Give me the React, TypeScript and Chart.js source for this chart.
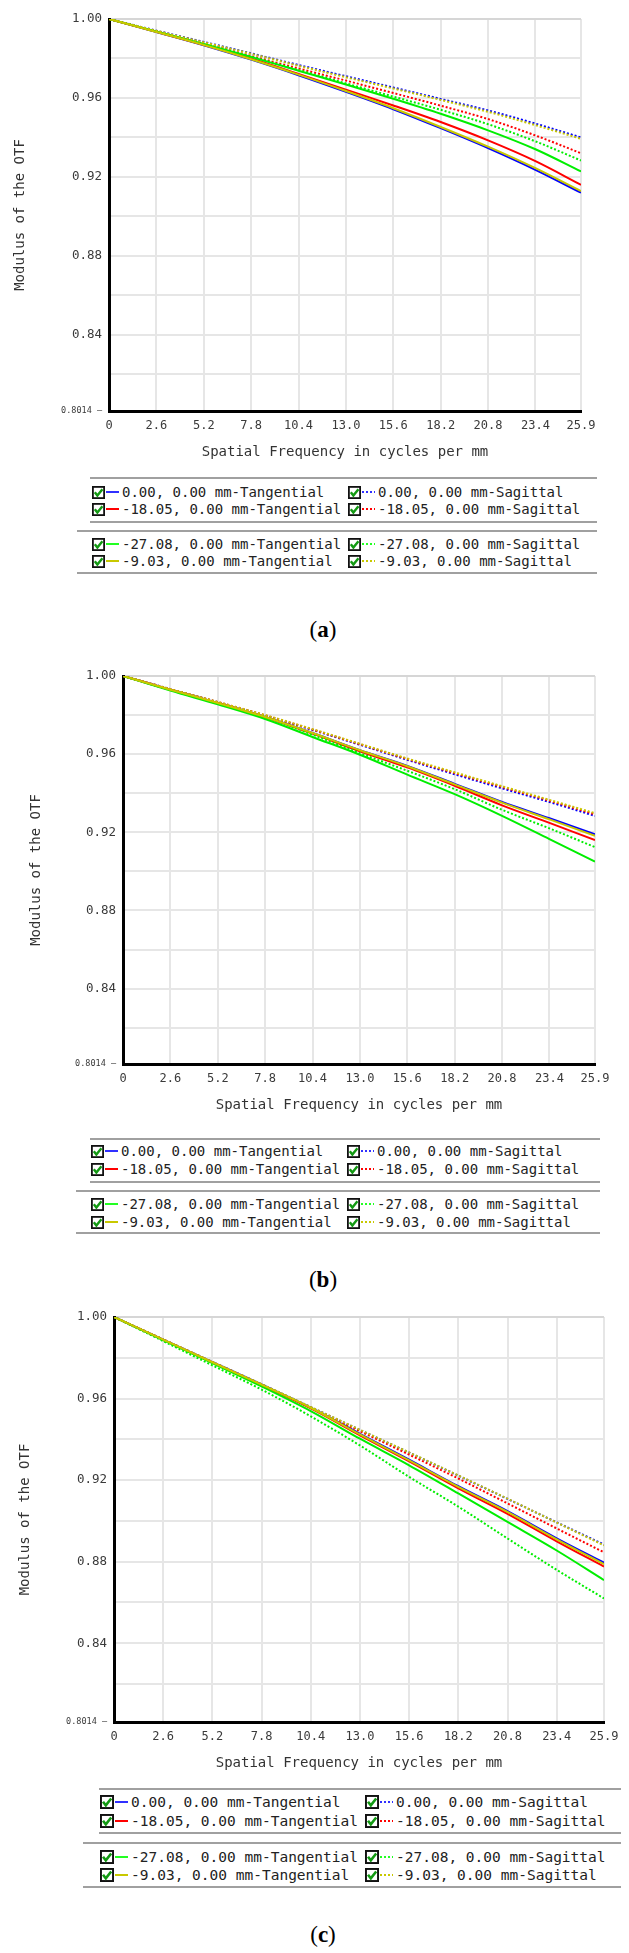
import { useEffect, useRef } from "react";
import { Chart, registerables } from "chart.js";

Chart.register(...registerables);

const MONO = "'DejaVu Sans Mono', monospace";

// spatial frequency ticks (cycles per mm)
const frequencies = [0, 2.6, 5.2, 7.8, 10.4, 13.0, 15.6, 18.2, 20.8, 23.4, 25.9];
const yTicks = [0.8014, 0.82, 0.84, 0.86, 0.88, 0.9, 0.92, 0.94, 0.96, 0.98, 1.0];
const yLabelled = [0.84, 0.88, 0.92, 0.96, 1.0];

const seriesLabels = [
  "0.00, 0.00 mm-Tangential",
  "0.00, 0.00 mm-Sagittal",
  "-18.05, 0.00 mm-Tangential",
  "-18.05, 0.00 mm-Sagittal",
  "-27.08, 0.00 mm-Tangential",
  "-27.08, 0.00 mm-Sagittal",
  "-9.03, 0.00 mm-Tangential",
  "-9.03, 0.00 mm-Sagittal",
];
const seriesColors = ["#0000ff", "#0000ff", "#ff0000", "#ff0000", "#00ee00", "#00ee00", "#c8c800", "#c8c800"];
const seriesDotted = [false, true, false, true, false, true, false, true];

// panel (a)
const aT0 = [1.0, 0.9934, 0.9867, 0.9794, 0.9715, 0.9631, 0.9543, 0.9447, 0.9346, 0.9236, 0.912];
const aS0 = [1.0, 0.9941, 0.9884, 0.9826, 0.9767, 0.971, 0.9653, 0.9595, 0.9537, 0.947, 0.94];
const aT18 = [1.0, 0.9935, 0.9869, 0.98, 0.9722, 0.9642, 0.9562, 0.9478, 0.9385, 0.928, 0.916];
const aS18 = [1.0, 0.9938, 0.9876, 0.9813, 0.9749, 0.9688, 0.9625, 0.9561, 0.9493, 0.941, 0.932];
const aT27 = [1.0, 0.9937, 0.9873, 0.9808, 0.9738, 0.9668, 0.9596, 0.952, 0.9436, 0.934, 0.9228];
const aS27 = [1.0, 0.9937, 0.9874, 0.9809, 0.9741, 0.9674, 0.9607, 0.954, 0.9467, 0.938, 0.9283];
const aT9 = [1.0, 0.9934, 0.9868, 0.9796, 0.9718, 0.9635, 0.9548, 0.9453, 0.9353, 0.9244, 0.9128];
const aS9 = [1.0, 0.994, 0.9882, 0.9824, 0.9763, 0.9705, 0.9648, 0.959, 0.953, 0.9462, 0.9393];

// panel (b)
const bT0 = [1.0, 0.993, 0.9862, 0.979, 0.9708, 0.962, 0.954, 0.9448, 0.9355, 0.9272, 0.919];
const bS0 = [1.0, 0.9933, 0.9866, 0.9797, 0.9724, 0.9648, 0.9571, 0.9497, 0.9425, 0.9355, 0.9284];
const bT18 = [1.0, 0.993, 0.9862, 0.9789, 0.9705, 0.9615, 0.9532, 0.9438, 0.9338, 0.9248, 0.916];
const bS18 = [1.0, 0.9933, 0.9867, 0.9799, 0.9726, 0.9651, 0.9575, 0.9503, 0.9432, 0.9362, 0.9292];
const bT27 = [1.0, 0.9925, 0.9855, 0.978, 0.9688, 0.9597, 0.9495, 0.9395, 0.9284, 0.9165, 0.905];
const bS27 = [1.0, 0.9928, 0.986, 0.979, 0.97, 0.9605, 0.9515, 0.9421, 0.9315, 0.922, 0.9124];
const bT9 = [1.0, 0.993, 0.9862, 0.979, 0.9708, 0.962, 0.9538, 0.9445, 0.9352, 0.9266, 0.9182];
const bS9 = [1.0, 0.9933, 0.9867, 0.98, 0.9728, 0.9653, 0.9578, 0.9507, 0.9436, 0.9366, 0.9298];

// panel (c)
const cT0 = [1.0, 0.9889, 0.9779, 0.9669, 0.9556, 0.9427, 0.93, 0.917, 0.9048, 0.8915, 0.8795];
const cS0 = [1.0, 0.989, 0.978, 0.967, 0.9558, 0.9446, 0.9335, 0.9222, 0.9108, 0.8993, 0.8884];
const cT18 = [1.0, 0.9888, 0.9777, 0.9666, 0.9552, 0.942, 0.9292, 0.916, 0.9035, 0.89, 0.8776];
const cS18 = [1.0, 0.989, 0.9779, 0.9668, 0.9555, 0.944, 0.9325, 0.9208, 0.9086, 0.8963, 0.8846];
const cT27 = [1.0, 0.9887, 0.9774, 0.966, 0.9539, 0.9403, 0.9273, 0.9135, 0.8995, 0.8855, 0.871];
const cS27 = [1.0, 0.9882, 0.9763, 0.9644, 0.9513, 0.937, 0.9216, 0.907, 0.8914, 0.876, 0.862];
const cT9 = [1.0, 0.9889, 0.9778, 0.9668, 0.9555, 0.9424, 0.9297, 0.9167, 0.9044, 0.891, 0.8788];
const cS9 = [1.0, 0.989, 0.978, 0.9671, 0.9559, 0.9447, 0.9336, 0.9223, 0.9109, 0.8992, 0.888];

type Plot = { left: number; right: number; top: number; bottom: number };

const PAD_TOP = 15;
const X_AXIS_H = 50;

function OtfChart({ series, plot, yTitleX }: { series: number[][]; plot: Plot; yTitleX: number }) {
  const chartRef = useRef<HTMLCanvasElement | null>(null);
  const height = PAD_TOP + (plot.bottom - plot.top) + X_AXIS_H;

  useEffect(() => {
    if (!chartRef.current) return;

    const chart = new Chart(chartRef.current, {
      type: "line",
      data: {
        datasets: series.map((values, i) => ({
          label: seriesLabels[i],
          data: frequencies.map((f, k) => ({ x: f, y: values[k] })),
          borderColor: seriesColors[i],
          backgroundColor: seriesColors[i],
          borderWidth: 2,
          borderDash: seriesDotted[i] ? [2, 2] : [],
          pointRadius: 0,
          cubicInterpolationMode: "monotone" as const,
          fill: false,
          order: 8 - i,
        })),
      },
      options: {
        animation: false,
        responsive: false,
        layout: { padding: { top: PAD_TOP, left: 0, right: 629 - plot.right, bottom: 0 } },
        plugins: { legend: { display: false }, tooltip: { enabled: false } },
        scales: {
          x: {
            type: "linear",
            min: 0,
            max: 25.9,
            afterBuildTicks: (s: any) => {
              s.ticks = frequencies.map((v) => ({ value: v }));
            },
            afterFit: (s: any) => {
              s.height = X_AXIS_H;
            },
            ticks: {
              autoSkip: false,
              maxRotation: 0,
              minRotation: 0,
              padding: 8,
              color: "#3a3a3a",
              font: { family: MONO, size: 12 },
              callback: (v: any) => (v === 0 ? "0" : Number(v).toFixed(1)),
            },
            grid: { color: "#e6e6e6", lineWidth: 2, drawTicks: false },
            border: { color: "#000", width: 3 },
            title: {
              display: true,
              text: "Spatial Frequency in cycles per mm",
              color: "#333",
              font: { family: MONO, size: 14 },
              padding: { top: 0, bottom: 0 },
            },
          },
          y: {
            type: "linear",
            min: 0.8014,
            max: 1.0,
            afterBuildTicks: (s: any) => {
              s.ticks = yTicks.map((v) => ({ value: v }));
            },
            afterFit: (s: any) => {
              s.width = plot.left;
            },
            ticks: {
              autoSkip: false,
              padding: 7,
              color: "#3a3a3a",
              font: (ctx: any) => ({
                family: MONO,
                size: ctx.tick && ctx.tick.value === 0.8014 ? 8.5 : 12.5,
              }),
              callback: (v: any) =>
                v === 0.8014 ? "0.8014 —" : yLabelled.includes(v) ? Number(v).toFixed(2) : "",
            },
            grid: {
              color: (ctx: any) =>
                ctx.tick && ctx.tick.value === 0.8014
                  ? "rgba(0,0,0,0)"
                  : ctx.tick && ctx.tick.value === 1
                  ? "#d6d6d6"
                  : "#e6e6e6",
              lineWidth: 2,
              drawTicks: false,
            },
            border: { color: "#000", width: 3 },
            title: {
              display: true,
              text: "Modulus of the OTF",
              color: "#333",
              font: { family: MONO, size: 14 },
              padding: { top: yTitleX - 8.4, bottom: 0 },
            },
          },
        },
      },
    });

    return () => {
      chart.destroy();
    };
  }, [series, plot, yTitleX]);

  return (
    <canvas
      ref={chartRef}
      width={629}
      height={height}
      style={{ position: "absolute", left: 0, top: plot.top - PAD_TOP, width: 629, height }}
    ></canvas>
  );
}

function CheckBox({ size }: { size: number }) {
  return (
    <svg width={size} height={size} viewBox="0 0 13 13" style={{ flex: "none" }}>
      <rect x="0.9" y="0.9" width="11.2" height="11.2" fill="#fff" stroke="#111" strokeWidth="1.8" />
      <path d="M2.8 6.2 L5.4 9.6 L10.4 3.2" fill="none" stroke="#139a13" strokeWidth="2.4" />
    </svg>
  );
}

function Sample({ color, dotted, width }: { color: string; dotted: boolean; width: number }) {
  return (
    <svg width={width} height={4} style={{ flex: "none", margin: "0 1px" }}>
      <line
        x1="0"
        y1="2"
        x2={width}
        y2="2"
        stroke={color === "#00ee00" ? "#22ff22" : color === "#0000ff" ? "#3030ff" : color}
        strokeWidth="2"
        strokeDasharray={dotted ? "2 2" : undefined}
      />
    </svg>
  );
}

type LegendGeom = {
  rows: number[];
  lines: number[];
  box1Left: number;
  box2Left: number;
  right: number;
  col1: number;
  col2: number;
  fontSize: number;
  box: number;
  sample: number;
};

function Legend({ g }: { g: LegendGeom }) {
  const lineStyle = (top: number, left: number) => ({
    position: "absolute" as const,
    top: top - 1,
    left,
    width: g.right - left,
    height: 2,
    background: "#a0a0a0",
  });
  const entries: JSX.Element[] = [];
  seriesLabels.forEach((label, i) => {
    const row = Math.floor(i / 2);
    const x = i % 2 === 0 ? g.col1 : g.col2;
    entries.push(
      <div
        key={label}
        style={{
          position: "absolute",
          left: x,
          top: g.rows[row] - 10,
          height: 20,
          display: "flex",
          alignItems: "center",
          whiteSpace: "nowrap",
          fontFamily: MONO,
          fontSize: g.fontSize,
          color: "#222",
        }}
      >
        <CheckBox size={g.box} />
        <Sample color={seriesColors[i]} dotted={seriesDotted[i]} width={g.sample} />
        <span style={{ marginLeft: 2 }}>{label}</span>
      </div>
    );
  });
  return (
    <>
      <div style={lineStyle(g.lines[0], g.box1Left)} />
      <div style={lineStyle(g.lines[1], g.box1Left)} />
      <div style={lineStyle(g.lines[2], g.box2Left)} />
      <div style={lineStyle(g.lines[3], g.box2Left)} />
      {entries}
    </>
  );
}

function PanelLabel({ letter, y }: { letter: string; y: number }) {
  return (
    <div
      style={{
        position: "absolute",
        left: 323,
        top: y,
        transform: "translate(-50%, -50%)",
        fontFamily: "'Liberation Serif', serif",
        fontSize: 23,
        color: "#000",
      }}
    >
      (<b>{letter}</b>)
    </div>
  );
}

const seriesA = [aT0, aS0, aT18, aS18, aT27, aS27, aT9, aS9];
const seriesB = [bT0, bS0, bT18, bS18, bT27, bS27, bT9, bS9];
const seriesC = [cT0, cS0, cT18, cS18, cT27, cS27, cT9, cS9];

const plotA = { left: 109, right: 581, top: 19, bottom: 411 };
const plotB = { left: 123, right: 595, top: 676, bottom: 1064 };
const plotC = { left: 114, right: 604, top: 1317, bottom: 1722 };

const legendA: LegendGeom = {
  rows: [492, 509, 544, 561],
  lines: [478, 522, 531, 573],
  box1Left: 90,
  box2Left: 77,
  right: 597,
  col1: 92,
  col2: 348,
  fontSize: 14,
  box: 13,
  sample: 13,
};
const legendB: LegendGeom = {
  rows: [1151, 1169, 1204, 1222],
  lines: [1139, 1182, 1191, 1233],
  box1Left: 90,
  box2Left: 76,
  right: 600,
  col1: 91,
  col2: 347,
  fontSize: 14,
  box: 13,
  sample: 13,
};
const legendC: LegendGeom = {
  rows: [1802, 1821, 1857, 1875],
  lines: [1789, 1833, 1843, 1887],
  box1Left: 99,
  box2Left: 83,
  right: 621,
  col1: 100,
  col2: 365,
  fontSize: 14.5,
  box: 14,
  sample: 13,
};

export default function App() {
  return (
    <div
      style={{
        position: "absolute",
        left: 0,
        top: 0,
        width: 629,
        height: 1953,
        background: "#fff",
        overflow: "hidden",
      }}
    >
      <OtfChart series={seriesA} plot={plotA} yTitleX={20} />
      <Legend g={legendA} />
      <PanelLabel letter="a" y={630} />

      <OtfChart series={seriesB} plot={plotB} yTitleX={36} />
      <Legend g={legendB} />
      <PanelLabel letter="b" y={1280} />

      <OtfChart series={seriesC} plot={plotC} yTitleX={25} />
      <Legend g={legendC} />
      <PanelLabel letter="c" y={1935} />
    </div>
  );
}
